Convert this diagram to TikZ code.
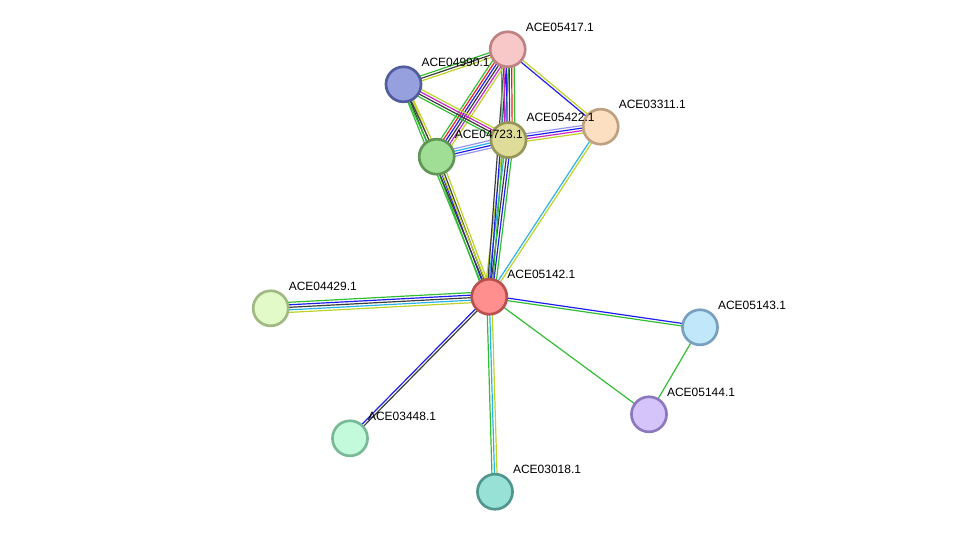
\documentclass[tikz,border=0pt]{standalone}
\usepackage{fontspec}
\setmainfont{Liberation Sans}
\usetikzlibrary{calc, backgrounds}
\usepackage{xcolor}
% evidence channels
\definecolor{sgreen}{RGB}{50,190,50}
\definecolor{sblue}{RGB}{30,30,240}
\definecolor{sdark}{RGB}{60,60,60}
\definecolor{scyan}{RGB}{40,180,230}
\definecolor{syellow}{RGB}{190,210,40}
\definecolor{smagenta}{RGB}{200,40,200}
\definecolor{sred}{RGB}{240,30,30}
\definecolor{slav}{RGB}{150,150,240}
% protein fills / borders
\definecolor{f05142}{RGB}{255,142,142} \definecolor{b05142}{RGB}{185,80,80}
\definecolor{f05417}{RGB}{248,200,200} \definecolor{b05417}{RGB}{190,130,130}
\definecolor{f04990}{RGB}{150,160,222} \definecolor{b04990}{RGB}{80,92,155}
\definecolor{f03311}{RGB}{252,222,192} \definecolor{b03311}{RGB}{190,160,130}
\definecolor{f05422}{RGB}{222,220,152} \definecolor{b05422}{RGB}{150,150,90}
\definecolor{f04723}{RGB}{160,222,150} \definecolor{b04723}{RGB}{95,150,85}
\definecolor{f04429}{RGB}{225,250,200} \definecolor{b04429}{RGB}{160,185,130}
\definecolor{f05143}{RGB}{192,232,250} \definecolor{b05143}{RGB}{120,160,190}
\definecolor{f05144}{RGB}{212,196,250} \definecolor{b05144}{RGB}{140,120,190}
\definecolor{f03448}{RGB}{196,250,220} \definecolor{b03448}{RGB}{120,185,150}
\definecolor{f03018}{RGB}{152,225,215} \definecolor{b03018}{RGB}{80,150,140}
\tikzset{
  prot/.style = {circle, fill=f#1, draw=b#1, line width=2pt,
                 minimum size=26.3pt, inner sep=0pt},
  lbl/.style  = {font=\fontsize{9}{10}\selectfont, text=black},
  edge/.style = {line width=0.9pt},
}
\newcommand{\gap}{1.9}
% parallel coloured lines between two proteins
\newcommand{\link}[3]{%
  \foreach \col [count=\k] in {#3} {\xdef\nlines{\k}}%
  \foreach \col [count=\i] in {#3} {%
    \pgfmathsetmacro{\off}{(\i-(\nlines+1)/2)*\gap}%
    \draw[edge, draw=\col] ($(#1)!\off pt!90:(#2)$) -- ($(#2)!\off pt!-90:(#1)$);
  }}

\begin{document}
\begin{tikzpicture}[x=0.75pt, y=-0.75pt]
  \useasboundingbox (0,0) rectangle (975,537);
  % proteins
  \foreach \id/\x/\y in {03311/600.7/126.7, 05422/508.5/140, 05417/507.7/49.3,
                         04990/403.5/84.3, 04723/436.7/156.7, 05142/489.3/296.7,
                         04429/270.7/308.3, 05143/700/327.3, 05144/649/414.3,
                         03448/350/438.3, 03018/495/491.7} {
    \node[prot=\id, label={[lbl]45:ACE\id.1}] (p\id) at (\x,\y) {};
  }
  % interactions
  \begin{scope}[on background layer]
    \link{p05142}{p04429}{sgreen,sblue,sdark,scyan,syellow}
    \link{p05142}{p05143}{sgreen,sblue}
    \link{p05142}{p05144}{sgreen}
    \link{p05143}{p05144}{sgreen}
    \link{p05142}{p03448}{sblue,sdark}
    \link{p05142}{p03018}{sgreen,scyan,syellow}
    \link{p05142}{p03311}{syellow,scyan}
    \link{p05142}{p05422}{sgreen,sblue,sdark,scyan,syellow}
    \link{p05142}{p05417}{sgreen,sblue,sdark}
    \link{p05142}{p04723}{syellow,sdark,sblue,sgreen}
    \link{p05142}{p04990}{syellow,sdark,sgreen}
    \link{p05417}{p05422}{sgreen,smagenta,sblue,sdark,sred,sgreen}
    \link{p05417}{p04723}{sgreen,sred,sblue,sdark,smagenta,syellow}
    \link{p05417}{p04990}{sgreen,sdark,syellow}
    \link{p05417}{p03311}{sblue,syellow}
    \link{p04990}{p05422}{sgreen,sdark,smagenta,syellow}
    \link{p04990}{p04723}{sgreen,sdark,syellow}
    \link{p04723}{p05422}{slav,sblue,scyan,slav}
    \link{p05422}{p03311}{syellow,smagenta,sblue,slav}
  \end{scope}
\end{tikzpicture}
\end{document}
